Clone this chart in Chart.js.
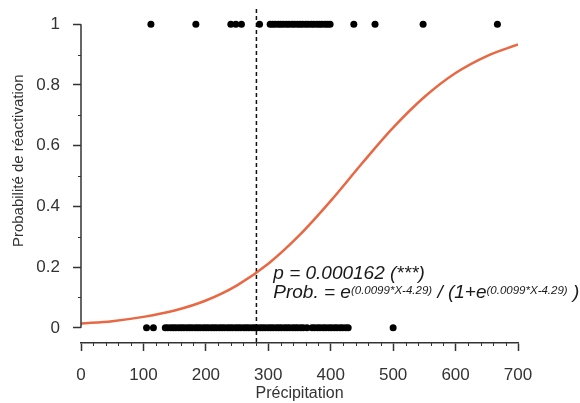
<!DOCTYPE html>
<html>
<head>
<meta charset="utf-8">
<script src="https://cdn.jsdelivr.net/npm/chart.js@4.4.0/dist/chart.umd.min.js"></script>
<style>
html, body { margin: 0; padding: 0; background: #fff; }
#wrap { width: 580px; height: 403px; }
</style>
</head>
<body>
<div id="wrap"><canvas id="chartContainer"></canvas></div>
<script>
// observations: precipitation for reactivated (1) and not reactivated (0)
const reactivated = [112, 184, 240, 248, 257, 286, 303, 307, 311, 316, 320, 324, 329, 333, 338, 342,
    347, 351, 355, 360, 364, 369, 373, 378, 382, 386, 391, 395, 399, 437, 471, 548, 667];
const notReactivated = [105, 116, 135, 139, 144, 148, 152, 157, 161, 165, 170, 174, 178, 183, 187, 191,
    196, 200, 204, 209, 213, 217, 222, 226, 230, 235, 239, 243, 248, 252, 256, 261, 265, 269, 274, 278,
    282, 287, 291, 295, 300, 304, 308, 313, 317, 321, 326, 330, 334, 339, 343, 347, 352, 356, 362,
    370, 374, 379, 383, 388, 392, 397, 401, 406, 410, 415, 419, 424, 428, 500];

// fitted logistic curve
const curveX = [0, 50, 100, 150, 200, 250, 300, 350, 400, 450, 500, 550, 600, 650, 700];
const curveY = [0.014, 0.022, 0.036, 0.057, 0.090, 0.140, 0.211, 0.305, 0.418, 0.541, 0.659, 0.760, 0.839, 0.895, 0.933];

const thresholdX = 281;
const yTicks = [0, 0.2, 0.4, 0.6, 0.8, 1];
const yMinorTicks = [0.1, 0.3, 0.5, 0.7, 0.9];
const xMinorTicks = [20, 40, 60, 80, 120, 140, 160, 180, 220, 240, 260, 280, 320, 340, 360, 380,
    420, 440, 460, 480, 520, 540, 560, 580, 620, 640, 660, 680];

const pValueText = 'p = 0.000162 (***)';
const exponentText = '(0.0099*X-4.29)';
const annotationAt = { x: 308, y: 0.16 };

const axisColor = '#333333';
const FONT = '"Liberation Sans", Arial, sans-serif';

const overlayPlugin = {
    id: 'overlay',
    beforeDatasetsDraw(chart) {
        const ctx = chart.ctx;
        const area = chart.chartArea;
        const xs = chart.scales.x;
        const px = xs.getPixelForValue(thresholdX);
        ctx.save();
        ctx.strokeStyle = '#111';
        ctx.lineWidth = 1.5;
        ctx.setLineDash([4, 3]);
        ctx.beginPath();
        ctx.moveTo(px, area.top);
        ctx.lineTo(px, area.bottom);
        ctx.stroke();
        ctx.restore();
    },
    afterDraw(chart) {
        const ctx = chart.ctx;
        const area = chart.chartArea;
        const xs = chart.scales.x;
        const ys = chart.scales.y;
        ctx.save();
        ctx.strokeStyle = axisColor;
        ctx.lineWidth = 1.5;
        // y axis line only from 0 to 1
        ctx.beginPath();
        ctx.moveTo(area.left, ys.getPixelForValue(0));
        ctx.lineTo(area.left, ys.getPixelForValue(1));
        ctx.stroke();
        ctx.lineWidth = 1;
        ctx.beginPath();
        yMinorTicks.forEach(v => {
            const y = Math.round(ys.getPixelForValue(v)) + 0.5;
            ctx.moveTo(area.left - 3, y);
            ctx.lineTo(area.left, y);
        });
        xMinorTicks.forEach(v => {
            const x = Math.round(xs.getPixelForValue(v)) + 0.5;
            ctx.moveTo(x, area.bottom);
            ctx.lineTo(x, area.bottom + 3);
        });
        ctx.stroke();

        // y axis title
        ctx.fillStyle = axisColor;
        ctx.font = '15px ' + FONT;
        ctx.textAlign = 'center';
        ctx.textBaseline = 'middle';
        ctx.translate(19, ys.getPixelForValue(0.55));
        ctx.rotate(-Math.PI / 2);
        ctx.fillText('Probabilité de réactivation', 0, 0);
        ctx.restore();

        // annotation
        ctx.save();
        ctx.fillStyle = '#1a1a1a';
        ctx.textBaseline = 'alphabetic';
        ctx.textAlign = 'left';
        const main = 'italic 19px ' + FONT;
        const sup = 'italic 11.5px ' + FONT;
        let x = xs.getPixelForValue(annotationAt.x);
        const y1 = ys.getPixelForValue(annotationAt.y);
        const y2 = y1 + 19;
        ctx.font = main;
        ctx.fillText(pValueText, x, y1);
        const parts = [
            ['Prob. = e', main, 0],
            [exponentText, sup, -4],
            [' / (1+e', main, 0],
            [exponentText, sup, -4],
            [' )', main, 0]
        ];
        parts.forEach(([txt, font, dy]) => {
            ctx.font = font;
            ctx.fillText(txt, x, y2 + dy);
            x += ctx.measureText(txt).width;
        });
        ctx.restore();
    }
};

const ctx = document.getElementById('chartContainer');
new Chart(ctx, {
    type: 'scatter',
    data: {
        datasets: [{
            label: 'Courbe',
            data: curveX.map((x, i) => ({ x: x, y: curveY[i] })),
            showLine: true,
            borderColor: 'rgb(233, 104, 68)',
            borderWidth: 2.5,
            pointRadius: 0,
            cubicInterpolationMode: 'monotone',
            fill: false
        }, {
            label: 'Réactivé',
            data: reactivated.map(x => ({ x: x, y: 1 })),
            backgroundColor: '#000',
            borderColor: '#000',
            pointRadius: 3.5,
            borderWidth: 0
        }, {
            label: 'Non réactivé',
            data: notReactivated.map(x => ({ x: x, y: 0 })),
            backgroundColor: '#000',
            borderColor: '#000',
            pointRadius: 3.5,
            borderWidth: 0
        }]
    },
    options: {
        responsive: true,
        maintainAspectRatio: false,
        animation: false,
        devicePixelRatio: 1,
        layout: { padding: { top: 9, right: 62, left: 0, bottom: 0 } },
        plugins: {
            legend: { display: false },
            tooltip: { enabled: false }
        },
        scales: {
            x: {
                type: 'linear',
                position: 'bottom',
                min: 0,
                max: 700,
                afterFit: s => { s.height = 60; s.paddingLeft = 0; s.paddingRight = 0; },
                ticks: {
                    stepSize: 100,
                    padding: 14,
                    color: axisColor,
                    font: { family: FONT, size: 17 },
                    maxRotation: 0
                },
                grid: {
                    drawOnChartArea: false,
                    drawTicks: true,
                    tickLength: 8,
                    tickColor: axisColor,
                    tickWidth: 1.5
                },
                border: { display: true, color: axisColor, width: 1.5 },
                title: {
                    display: true,
                    text: 'Précipitation',
                    color: axisColor,
                    font: { family: FONT, size: 16 },
                    padding: { top: 0, bottom: 0 }
                }
            },
            y: {
                type: 'linear',
                min: -0.05,
                max: 1.05,
                afterFit: s => { s.width = 81; s.paddingTop = 0; s.paddingBottom = 0; },
                afterBuildTicks: s => { s.ticks = yTicks.map(v => ({ value: v })); },
                ticks: {
                    padding: 13,
                    color: axisColor,
                    font: { family: FONT, size: 17 },
                    callback: v => String(Math.round(v * 10) / 10)
                },
                grid: {
                    drawOnChartArea: false,
                    drawTicks: true,
                    tickLength: 8,
                    tickColor: axisColor,
                    tickWidth: 1.5
                },
                border: { display: false }
            }
        }
    },
    plugins: [overlayPlugin]
});
</script>
</body>
</html>
